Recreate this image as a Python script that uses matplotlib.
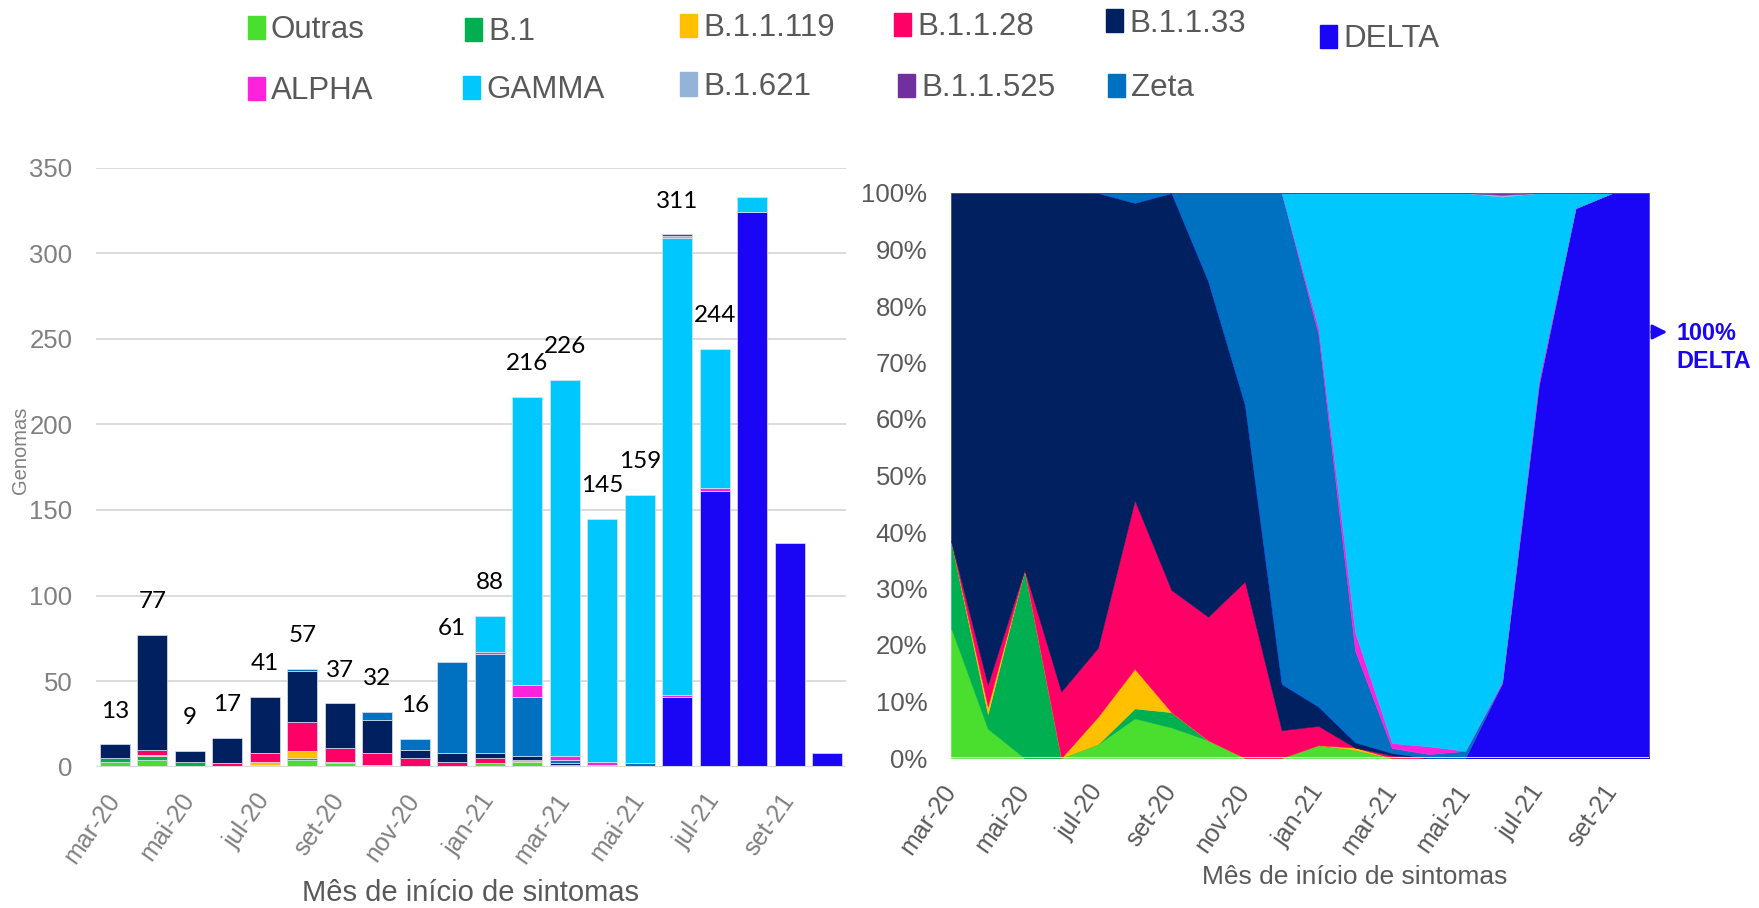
import numpy as np
import matplotlib.pyplot as plt
from matplotlib.patches import Rectangle
from matplotlib.ticker import PercentFormatter

plt.rcParams['font.family'] = ['Liberation Sans', 'DejaVu Sans']

# genomas por mes de inicio de sintomas
months = ['mar-20', 'abr-20', 'mai-20', 'jun-20', 'jul-20', 'ago-20', 'set-20', 'out-20', 'nov-20', 'dez-20',
          'jan-21', 'fev-21', 'mar-21', 'abr-21', 'mai-21', 'jun-21', 'jul-21', 'ago-21', 'set-21', 'out-21']

outras    = [3, 4, 0, 0, 1, 4, 2, 1, 0, 0, 2, 3, 0, 0, 0, 0, 0, 0, 0, 0]
b1        = [2, 2, 3, 0, 0, 1, 1, 0, 0, 0, 0, 0, 0, 0, 0, 0, 0, 0, 0, 0]
b11119    = [0, 1, 0, 0, 2, 4, 0, 0, 0, 0, 0, 1, 0, 0, 0, 0, 0, 0, 0, 0]
b1128     = [0, 3, 0, 2, 5, 17, 8, 7, 5, 3, 3, 0, 1, 0, 0, 0, 0, 0, 0, 0]
b1133     = [8, 67, 6, 15, 33, 30, 26, 19, 5, 5, 3, 2, 1, 0, 0, 0, 0, 0, 0, 0]
delta     = [0, 0, 0, 0, 0, 0, 0, 0, 0, 0, 0, 0, 0, 0, 0, 41, 161, 324, 131, 8]
zeta      = [0, 0, 0, 0, 0, 1, 0, 5, 6, 53, 58, 35, 2, 1, 2, 0, 0, 0, 0, 0]
alpha     = [0, 0, 0, 0, 0, 0, 0, 0, 0, 0, 1, 7, 2, 2, 0, 1, 2, 0, 0, 0]
gamma     = [0, 0, 0, 0, 0, 0, 0, 0, 0, 0, 21, 168, 220, 142, 157, 267, 81, 9, 0, 0]
b1621     = [0, 0, 0, 0, 0, 0, 0, 0, 0, 0, 0, 0, 0, 0, 0, 1, 0, 0, 0, 0]
b11525    = [0, 0, 0, 0, 0, 0, 0, 0, 0, 0, 0, 0, 0, 0, 0, 1, 0, 0, 0, 0]

n_labeled = 17  # ultimos meses sem rotulo

names  = ['Outras', 'B.1', 'B.1.1.119', 'B.1.1.28', 'B.1.1.33', 'DELTA', 'Zeta', 'ALPHA', 'GAMMA', 'B.1.621', 'B.1.1.525']
series = [outras, b1, b11119, b1128, b1133, delta, zeta, alpha, gamma, b1621, b11525]
colors = {'Outras': '#4ADE2F', 'B.1': '#00B050', 'B.1.1.119': '#FFC000', 'B.1.1.28': '#FF0066',
          'B.1.1.33': '#002060', 'DELTA': '#1A06F5', 'Zeta': '#0070C0', 'ALPHA': '#FF22DD',
          'GAMMA': '#00C8FF', 'B.1.621': '#95B3D7', 'B.1.1.525': '#7030A0'}

W, H = 1759, 908
fig = plt.figure(figsize=(W / 100, H / 100), dpi=100)

# ---- barras empilhadas ----
ax1 = fig.add_axes([96 / W, 1 - 766.7 / H, 750 / W, 599 / H])
x = np.arange(len(months))
bottom = np.zeros(len(months))
for name, vals in zip(names, series):
    v = np.array(vals, dtype=float)
    m = v > 0
    ax1.bar(x[m], v[m], 0.8, bottom=bottom[m], color=colors[name],
            edgecolor='#dde4ee', linewidth=0.5, zorder=3)
    bottom += v
totals = bottom

for i in range(n_labeled):
    ax1.text(i, totals[i] + 19.5, '%d' % totals[i], ha='center', va='center',
             fontsize=17.5, family=['Lato', 'DejaVu Sans'], color='black', zorder=5)

ax1.set_xlim(-0.5, 19.5)
ax1.set_ylim(0, 350)
ax1.set_yticks(range(0, 351, 50))
ax1.yaxis.grid(True, color='#D9D9D9', lw=1.3, zorder=0)
ax1.axhline(0, color='#D9D9D9', lw=2.2, zorder=4)
for s in ax1.spines.values():
    s.set_visible(False)
ax1.set_xticks(x[::2])
ax1.set_xticklabels(months[::2], rotation=55, ha='right', va='center', rotation_mode='anchor')
ax1.tick_params(axis='y', length=0, pad=17, labelsize=18.5, labelcolor='#808080')
ax1.tick_params(axis='x', length=0, pad=21, labelsize=18, labelcolor='#808080')
fig.text(21 / W, 1 - 450 / H, 'Genomas', rotation=90, ha='center', va='center',
         fontsize=14.5, color='#808080')
fig.text(471 / W, 1 - 893 / H, 'Mês de início de sintomas', ha='center', va='center',
         fontsize=21, color='#595959')

# ---- area 100% ----
ax2 = fig.add_axes([951 / W, 1 - 758 / H, 698 / W, 565 / H])
pct = np.array(series, dtype=float) / totals
ax2.stackplot(x, *pct, colors=[colors[n] for n in names], edgecolor='face', linewidth=0.35, zorder=2)
ax2.set_xlim(0, 19)
ax2.set_ylim(0, 1)
ax2.set_yticks(np.linspace(0, 1, 11))
ax2.yaxis.set_major_formatter(PercentFormatter(1.0, decimals=0))
ax2.axhline(0, color='#D9D9D9', lw=2.2, zorder=4)
ax2.axhline(1, color='#D9D9D9', lw=1.0, zorder=1)
for s in ax2.spines.values():
    s.set_visible(False)
ax2.set_xticks(x[::2])
ax2.set_xticklabels(months[::2], rotation=55, ha='right', va='center', rotation_mode='anchor')
ax2.tick_params(axis='y', length=0, pad=17, labelsize=18.5, labelcolor='#595959')
ax2.tick_params(axis='x', length=0, pad=21, labelsize=18, labelcolor='#595959')
fig.text(1355 / W, 1 - 877 / H, 'Mês de início de sintomas', ha='center', va='center',
         fontsize=19, color='#595959')

ax2.annotate('', xy=(1670, H - 332), xytext=(1649, H - 332), xycoords='figure pixels',
             textcoords='figure pixels',
             arrowprops=dict(arrowstyle='-|>', color=colors['DELTA'], lw=2, mutation_scale=22))
fig.text(1676 / W, 1 - 333 / H, '100%', ha='left', va='center', fontsize=16.8,
         fontweight='bold', color=colors['DELTA'])
fig.text(1676 / W, 1 - 362 / H, 'DELTA', ha='left', va='center', fontsize=16.8,
         fontweight='bold', color=colors['DELTA'])

# ---- legenda manual ----
leg_pos = {'Outras': (248, 27.5), 'B.1': (465, 29.5), 'B.1.1.119': (680, 25.5), 'B.1.1.28': (894, 24.2),
           'B.1.1.33': (1106, 20.5), 'DELTA': (1320, 36.3), 'ALPHA': (248, 88.3), 'GAMMA': (463, 87.5),
           'B.1.621': (680, 84), 'B.1.1.525': (898, 85.5), 'Zeta': (1108, 85.5)}
for name, (px, py) in leg_pos.items():
    fig.patches.append(Rectangle((px / W, 1 - (py + 11.5) / H), 17 / W, 23 / H,
                                 transform=fig.transFigure, color=colors[name]))
    fig.text((px + 23) / W, 1 - (py + 11) / H, name, ha='left', va='baseline',
             fontsize=22.5, color='#595959')

fig.savefig('out.png', dpi=100)
